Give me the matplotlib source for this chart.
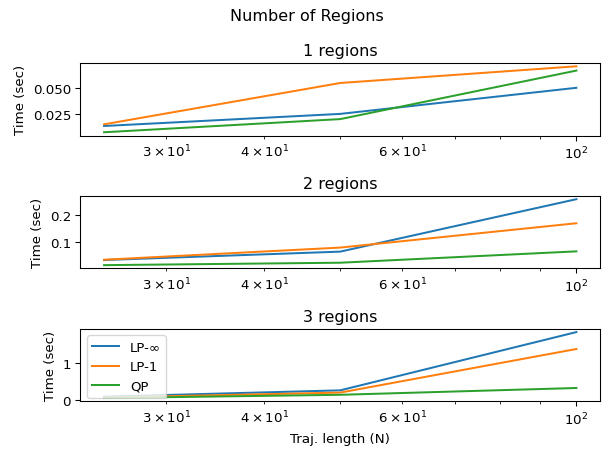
import matplotlib.pyplot as plt

traj_len = [25, 50, 100]
region_titles = ["1 regions", "2 regions", "3 regions"]

# times in seconds, one list per method, per number of regions
lp_inf = [
    [0.0134, 0.025, 0.050],
    [0.033, 0.064, 0.258],
    [0.085, 0.256, 1.84],
]
lp_1 = [
    [0.015, 0.0546, 0.0706],
    [0.034, 0.079, 0.169],
    [0.06, 0.195, 1.38],
]
qp = [
    [0.0074, 0.020, 0.0665],
    [0.014, 0.023, 0.065],
    [0.047, 0.135, 0.32],
]

fig, axes = plt.subplots(3, 1, figsize=(6.4, 4.8), dpi=96)
fig.suptitle("Number of Regions")

for i, ax in enumerate(axes):
    ax.plot(traj_len, lp_inf[i], label="LP-∞")
    ax.plot(traj_len, lp_1[i], label="LP-1")
    ax.plot(traj_len, qp[i], label="QP")
    ax.set_xscale("log")
    ax.set_title(region_titles[i])
    ax.set_ylabel("Time (sec)")

axes[2].set_xlabel("Traj. length (N)")
axes[2].legend(loc="upper left")

fig.tight_layout()
fig.savefig("out.png")
